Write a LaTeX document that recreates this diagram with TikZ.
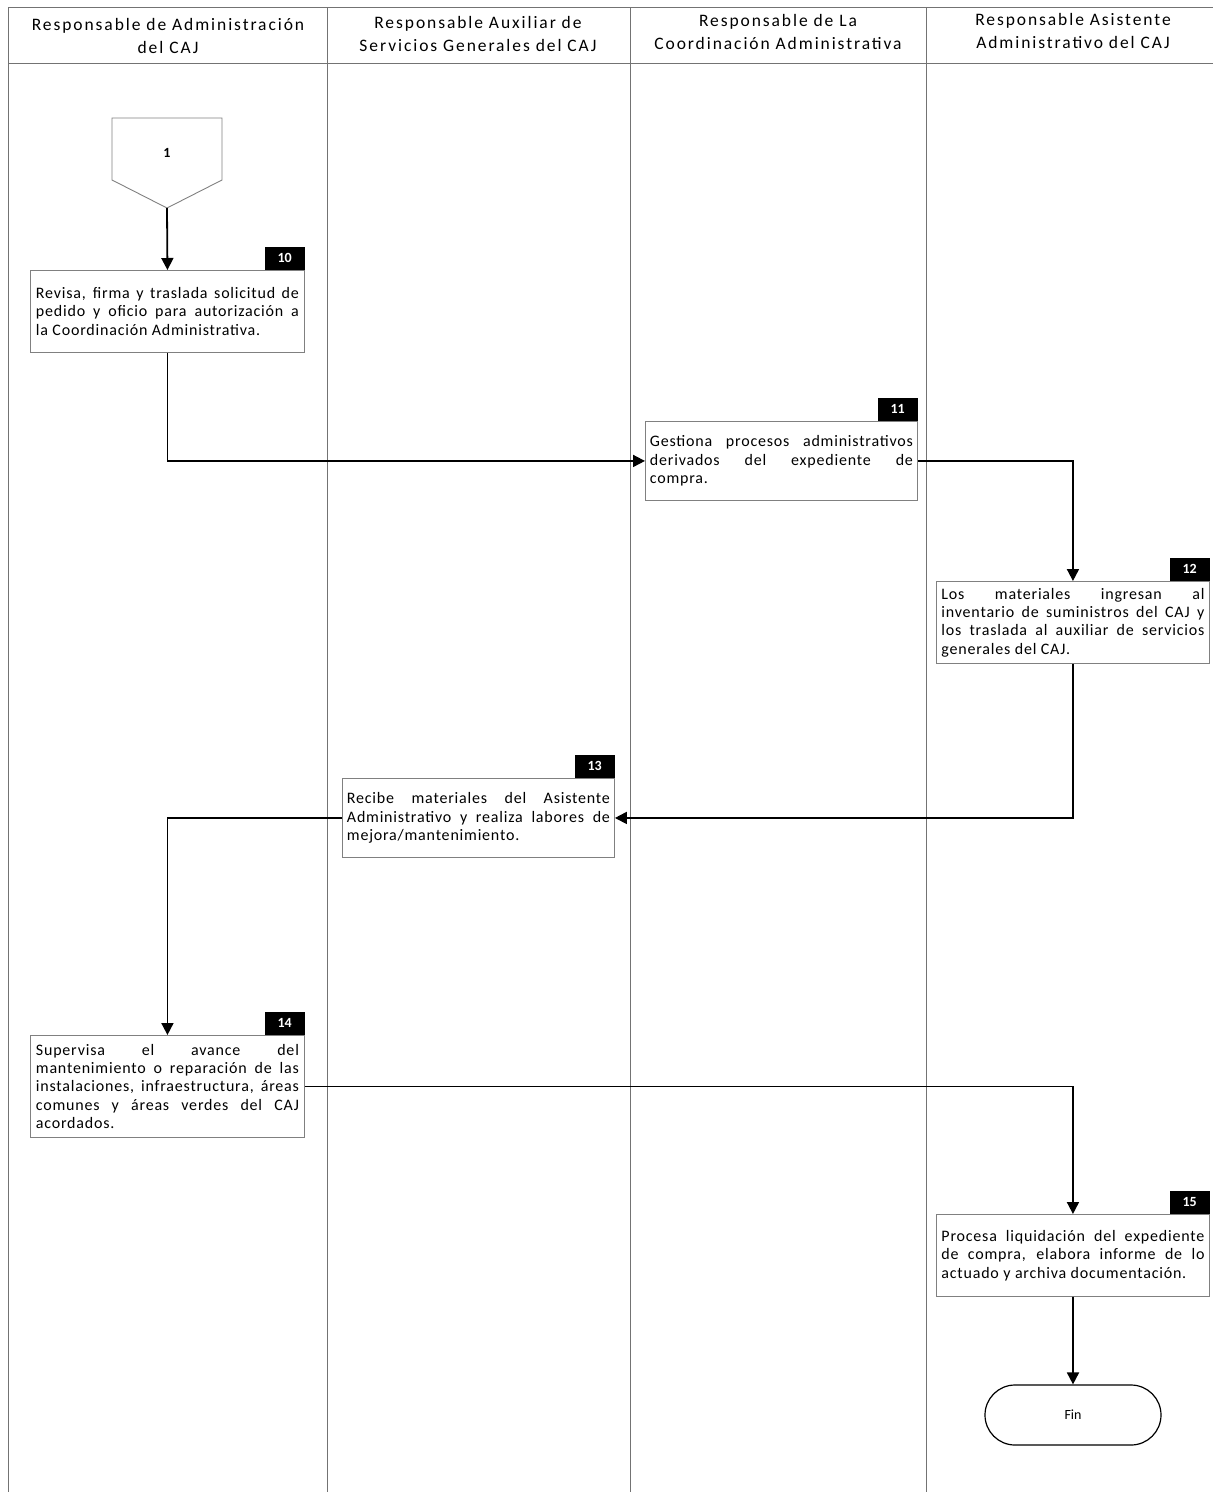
\documentclass[tikz,border=0pt]{standalone}
\usepackage{fontspec}
\setmainfont{Carlito}
\usetikzlibrary{arrows.meta}
\newfontfamily\headfont[LetterSpace=11]{Carlito}
\newfontfamily\boxfont[LetterSpace=5]{Carlito}
\begin{document}
\hyphenpenalty=10000
\exhyphenpenalty=10000
\begin{tikzpicture}[x=1pt,y=-1pt,
  lane/.style={draw=black!55, line width=0.9pt},
  procbox/.style={draw=black!50, line width=0.9pt, fill=white, anchor=north west,
    inner sep=0pt, align=justify, text width=263pt,
    font=\boxfont\fontsize{16}{18.4}\selectfont},
  badge/.style={fill=black, text=white, anchor=south east, inner sep=0pt,
    minimum width=40pt, minimum height=23pt, font=\fontsize{14}{16}\selectfont\bfseries},
  head/.style={align=center, font=\headfont\fontsize{17.5}{22.5}\selectfont},
  flow/.style={draw=black, line width=1.8pt, -{Triangle[length=12pt,width=12pt]}},
  term/.style={draw=black, line width=1.2pt, rounded corners=30pt, minimum width=176pt,
    minimum height=60pt, inner sep=0pt, font=\fontsize{14}{16}\selectfont}]
\useasboundingbox (0,0) rectangle (1213,1492);
% swimlane grid
\draw[lane] (1213,7) -- (8,7) -- (8,1492);
\draw[lane] (8,63) -- (1213,63);
\foreach \xx in {327,630,926} \draw[lane] (\xx,7) -- (\xx,1492);
% lane headings
\node[head] (h1) at (168,36) {Responsable de Administración\\del CAJ};
\node[head] (h2) at (478,34) {Responsable Auxiliar de\\Servicios Generales del CAJ};
\node[head] (h3) at (778,32) {Responsable de La\\Coordinación Administrativa};
\node[head] (h4) at (1073,31) {Responsable Asistente\\Administrativo del CAJ};
% off-page connector 1
\draw[draw=black!50, line width=0.9pt, fill=white] (112,118) -- (222,118) -- (222,180) -- (167,208) -- (112,180) -- cycle;
\node[font=\fontsize{14}{16}\selectfont\bfseries] (c1) at (167,153) {1};
\coordinate (c1tip) at (167,208);
% process steps
\node[procbox, minimum width=274pt, minimum height=82pt] (b10) at (30,270)
  {Revisa, firma y traslada solicitud de\linebreak pedido y oficio para autorización a\linebreak la Coordinación Administrativa.};
\node[badge] at (b10.north east) {10};
\node[procbox, minimum width=272pt, minimum height=79pt] (b11) at (645,421)
  {Gestiona procesos administrativos\linebreak derivados del expediente de\linebreak compra.};
\node[badge] at (b11.north east) {11};
\node[procbox, minimum width=273pt, minimum height=82pt] (b12) at (936,581)
  {Los materiales ingresan al\linebreak inventario de suministros del CAJ y\linebreak los traslada al auxiliar de servicios\linebreak generales del CAJ.};
\node[badge] at (b12.north east) {12};
\node[procbox, minimum width=272pt, minimum height=79pt] (b13) at (342,778)
  {Recibe materiales del Asistente\linebreak Administrativo y realiza labores de\linebreak mejora/mantenimiento.};
\node[badge] at (b13.north east) {13};
\node[procbox, minimum width=274pt, minimum height=102pt] (b14) at (30,1035)
  {Supervisa el avance del\linebreak mantenimiento o reparación de las\linebreak instalaciones, infraestructura, áreas\linebreak comunes y áreas verdes del CAJ\linebreak acordados.};
\node[badge] at (b14.north east) {14};
\node[procbox, minimum width=273pt, minimum height=82pt] (b15) at (936,1214)
  {Procesa liquidación del expediente\linebreak de compra, elabora informe de lo\linebreak actuado y archiva documentación.};
\node[badge] at (b15.north east) {15};
\node[term] (fin) at (1073,1415) {Fin};
% connectors
\draw[flow] (c1tip) -- (b10.north);
\draw[flow] (b10.south) |- (b11.west);
\draw[flow] (b11.east) -| (b12.north);
\draw[flow] (b12.south) |- (b13.east);
\draw[flow] (b13.west) -| (b14.north);
\draw[flow] (b14.east) -| (b15.north);
\draw[flow] (b15.south) -- (fin.north);
\end{tikzpicture}
\end{document}
